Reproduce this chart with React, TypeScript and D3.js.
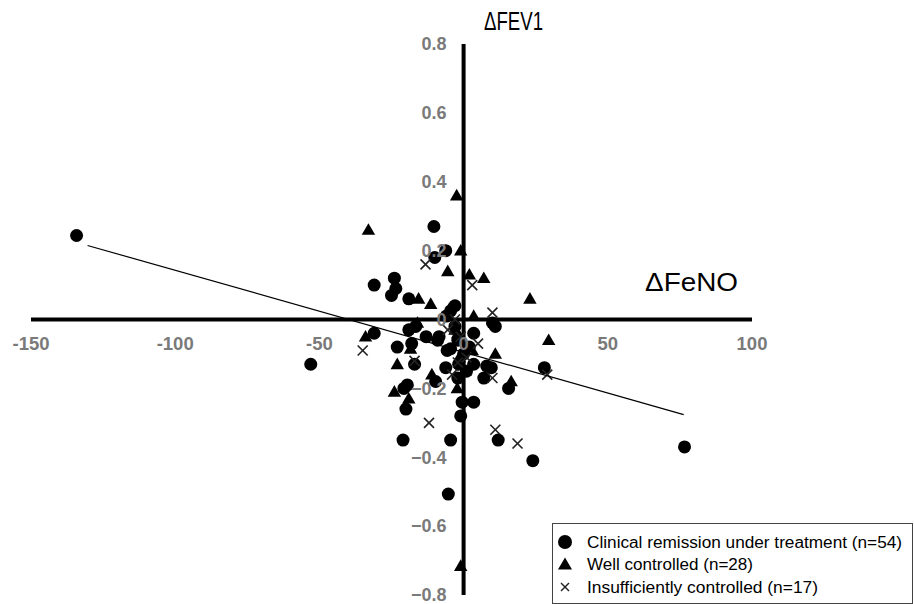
import React from "react";
import * as d3 from "d3";

const xTicks = [-150, -100, -50, 0, 50, 100];
const yTicks = [-0.8, -0.6, -0.4, -0.2, 0, 0.2, 0.4, 0.6, 0.8];

const remissionX = [-134.2, -53, 76.6, -5.3, -10.3, -6.2, -10, -31, -24, -23.5, -25, -19, -3, -4.5, -6, 10, 11, -31, -19, -16.6, -13, -9, -18, -23, -5.7, 3.5, -4.5, -17, -6.2, 9.6, 28, 7, 15.6, -2, -9.7, -19.5, -20.7, -20, -0.5, 3.5, -1, -21, -4.5, 12, 24, 3.5, 0, -2, 2, -1.7, 1, -3, -8.5, 8];
const remissionY = [0.244, -0.13, -0.37, -0.507, 0.27, 0.2, 0.18, 0.1, 0.12, 0.09, 0.07, 0.06, 0.04, 0.025, 0.01, -0.01, -0.02, -0.04, -0.03, -0.02, -0.05, -0.06, -0.07, -0.08, -0.09, -0.04, -0.085, -0.13, -0.14, -0.14, -0.14, -0.17, -0.2, -0.17, -0.18, -0.19, -0.2, -0.26, -0.24, -0.24, -0.28, -0.35, -0.35, -0.35, -0.41, -0.13, -0.1, -0.06, -0.08, -0.13, -0.15, -0.02, -0.05, -0.135];

const wellX = [-2.4, -33, -1, -5.5, 2, 7, 23, -15.6, -11.4, -5, 3.5, -16, -2, -34, 29.5, -18.4, 11, -23, -11, 16.5, -2.2, -24, -19, -1, 3, -3, 0.5, -1.5];
const wellY = [0.36, 0.26, 0.2, 0.14, 0.13, 0.12, 0.06, 0.06, 0.045, 0.03, 0.01, -0.01, -0.04, -0.05, -0.06, -0.085, -0.1, -0.13, -0.16, -0.18, -0.2, -0.21, -0.23, -0.716, -0.09, -0.03, -0.15, -0.11];

const insuffX = [-13.2, 3, 10, -5.5, -35, -17, 29, 10, -12, 11, 18.7, -2, -1, 1, -4, 5, -3];
const insuffY = [0.16, 0.1, 0.02, -0.03, -0.09, -0.12, -0.16, -0.17, -0.3, -0.32, -0.36, -0.125, -0.05, -0.11, -0.16, -0.07, 0.0];

const trendX = [-130.4, 76.3];
const trendY = [0.215, -0.276];

const legendLabels = [
  "Clinical remission under treatment (n=54)",
  "Well controlled (n=28)",
  "Insufficiently controlled (n=17)",
];
const legendWidths = [315, 166, 231];

export default function App() {
  const W = 914;
  const H = 604;
  const x = d3.scaleLinear().domain([-150, 100]).range([31, 752]);
  const y = d3.scaleLinear().domain([-0.8, 0.8]).range([595, 44]);

  const circles = remissionX.map((v, i) => ({ x: v, y: remissionY[i] }));
  const tris = wellX.map((v, i) => ({ x: v, y: wellY[i] }));
  const crosses = insuffX.map((v, i) => ({ x: v, y: insuffY[i] }));

  const triPath = d3.symbol().type(d3.symbolTriangle).size(78)() as string;
  const legTriPath = d3.symbol().type(d3.symbolTriangle).size(85)() as string;

  const line = d3
    .line<number>()
    .x((d) => x(d))
    .y((_, i) => y(trendY[i]));

  const fmt = (v: number) => (v === 0 ? "0" : d3.format(".1f")(v));
  const tickFont = "'Liberation Sans', Arial, sans-serif";

  const legX = 552;
  const legY = 523;
  const legRows = [542, 564.5, 587];

  return (
    <svg
      width={W}
      height={H}
      style={{ position: "absolute", left: 0, top: 0, background: "#fff" }}
    >
      <rect x={0} y={0} width={W} height={H} fill="#fff" />
      {/* axes */}
      <line x1={x(-150)} x2={x(100)} y1={y(0)} y2={y(0)} stroke="#000" strokeWidth={4} />
      <line x1={x(0)} x2={x(0)} y1={y(0.8)} y2={y(-0.8)} stroke="#000" strokeWidth={4} />

      {/* points */}
      {circles.map((d, i) => (
        <circle key={"c" + i} cx={x(d.x)} cy={y(d.y)} r={6.5} fill="#000" />
      ))}
      {tris.map((d, i) => (
        <path key={"t" + i} d={triPath} transform={`translate(${x(d.x)},${y(d.y) + 1})`} fill="#000" />
      ))}
      {crosses.map((d, i) => {
        const cx = x(d.x);
        const cy = y(d.y);
        const s = 5;
        return (
          <g key={"x" + i} stroke="#222" strokeWidth={1.6}>
            <line x1={cx - s} y1={cy - s} x2={cx + s} y2={cy + s} />
            <line x1={cx - s} y1={cy + s} x2={cx + s} y2={cy - s} />
          </g>
        );
      })}

      {/* trend line */}
      <path d={line(trendX) as string} fill="none" stroke="#000" strokeWidth={1.2} />

      {/* tick labels */}
      {xTicks.map((t) => (
        <text
          key={"xt" + t}
          x={x(t)}
          y={y(0) + 24}
          dy="0.35em"
          textAnchor="middle"
          fontFamily={tickFont}
          fontWeight="bold"
          fontSize={18.5}
          fill="#7a7a7a"
        >
          {t}
        </text>
      ))}
      {yTicks.map((t) => (
        <text
          key={"yt" + t}
          x={x(0) - 17}
          y={y(t)}
          dy="0.35em"
          textAnchor="end"
          fontFamily={tickFont}
          fontWeight="bold"
          fontSize={18}
          fill="#7a7a7a"
        >
          {fmt(t)}
        </text>
      ))}

      {/* axis titles */}
      <text x={484} y={30} fontFamily={tickFont} fontSize={26} textLength={59} lengthAdjust="spacingAndGlyphs" fill="#000">
        ΔFEV1
      </text>
      <text x={645} y={291} fontFamily={tickFont} fontSize={25} textLength={93} lengthAdjust="spacingAndGlyphs" fill="#000">
        ΔFeNO
      </text>

      {/* legend */}
      <rect x={legX + 0.5} y={legY + 0.5} width={360} height={80} fill="#fff" stroke="#444" strokeWidth={1} />
      <circle cx={565} cy={legRows[0]} r={7} fill="#000" />
      <path d={legTriPath} transform={`translate(565,${legRows[1] + 1})`} fill="#000" />
      <g stroke="#222" strokeWidth={1.4}>
        <line x1={561} y1={legRows[2] - 4} x2={569} y2={legRows[2] + 4} />
        <line x1={561} y1={legRows[2] + 4} x2={569} y2={legRows[2] - 4} />
      </g>
      {legendLabels.map((l, i) => (
        <text
          key={l}
          x={587}
          y={legRows[i]}
          dy="0.35em"
          fontFamily={tickFont}
          fontSize={16}
          textLength={legendWidths[i]}
          lengthAdjust="spacingAndGlyphs"
          fill="#000"
        >
          {l}
        </text>
      ))}
    </svg>
  );
}
